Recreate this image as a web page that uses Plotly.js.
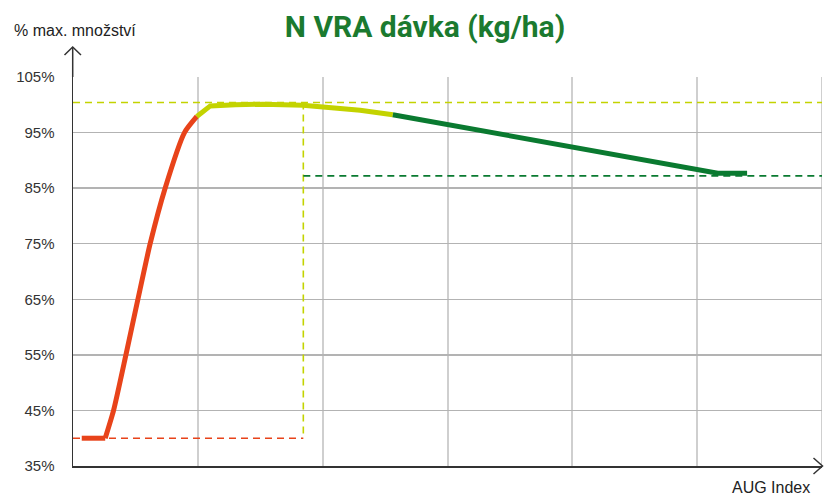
<!DOCTYPE html>
<html>
<head>
<meta charset="utf-8">
<script src="https://cdn.plot.ly/plotly-3.0.1.min.js"></script>
<style>html,body{margin:0;padding:0;background:#fff;}#chart{width:824px;height:495px;}</style>
</head>
<body>
<div id="chart"></div>
<script>
// ---- data (x = AUG index units, y = % of max amount) ----
const redFlatX = [0.07, 0.258];
const redFlatY = [40.0, 40.0];
const redX = [0.258, 0.325, 0.424, 0.520, 0.618, 0.738, 0.893, 0.992];
const redY = [40.0, 45.0, 55.0, 65.0, 75.0, 85.0, 95.0, 97.9];
const yellowX = [0.992, 1.10, 1.30, 1.522, 1.842, 2.002, 2.30, 2.562];
const yellowY = [97.9, 99.8, 100.0, 100.1, 99.9, 99.6, 99.0, 98.2];
const greenX = [2.562, 5.165, 5.40];
const greenY = [98.2, 87.7, 87.7];

const refMaxY = 100.4;    // yellow dashed horizontal
const refMinY = 40.0;     // red dashed horizontal
const refGreenY = 87.2;   // green dashed horizontal
const refSplitX = 1.845;  // yellow dashed vertical
const xMin = 0, xMax = 6;

const yTicks = [35, 45, 55, 65, 75, 85, 95, 105];
const yTickText = yTicks.map(v => v + '%');

const titleText = 'N VRA dávka (kg/ha)';
const yLabel = '% max. množství';
const xLabel = 'AUG Index';

// ---- colours ----
const cRed = '#E8431A', cYellow = '#C3D300', cGreen = '#0A7A30';

// ---- pixel helpers for decorations (axis arrows) ----
const L = 73, R = 2, T = 77, B = 29, W = 824 - L - R, H = 495 - T - B;
const px = x => (x - L) / W;
const py = y => (495 - B - y) / H;

const dash = '7px,5px';
const traces = [
  {x: [xMin, xMax], y: [refMaxY, refMaxY], mode: 'lines', line: {color: cYellow, width: 1.6, dash: dash}},
  {x: [refSplitX, refSplitX], y: [refMaxY, refMinY], mode: 'lines', line: {color: cYellow, width: 1.6, dash: dash}},
  {x: [xMin, refSplitX], y: [refMinY, refMinY], mode: 'lines', line: {color: cRed, width: 1.6, dash: dash}},
  {x: [refSplitX, xMax], y: [refGreenY, refGreenY], mode: 'lines', line: {color: cGreen, width: 1.6, dash: dash}},
  {x: redFlatX, y: redFlatY, mode: 'lines', line: {color: cRed, width: 5}},
  {x: redX, y: redY, mode: 'lines', line: {color: cRed, width: 5, shape: 'spline', smoothing: 0.6}},
  {x: yellowX, y: yellowY, mode: 'lines', line: {color: cYellow, width: 5}},
  {x: greenX, y: greenY, mode: 'lines', line: {color: cGreen, width: 5}}
].map(t => Object.assign(t, {showlegend: false, hoverinfo: 'skip', cliponaxis: false}));

const axisCol = '#333333';
const layout = {
  width: 824, height: 495,
  margin: {l: L, r: R, t: T, b: B, pad: 0},
  paper_bgcolor: '#ffffff', plot_bgcolor: '#ffffff',
  font: {family: 'Liberation Sans, Arial, sans-serif', color: '#333333', size: 15},
  title: {text: '<b>' + titleText + '</b>', x: 425 / 824, xref: 'container', xanchor: 'center',
          y: 1 - 26 / 495, yref: 'container', yanchor: 'middle',
          font: {family: 'Roboto, Liberation Sans, sans-serif', size: 30, color: '#1B7A2F'}},
  xaxis: {range: [xMin, xMax], dtick: 1, tick0: 0, showticklabels: false, ticks: '',
          showgrid: true, gridcolor: '#cfcfcf', gridwidth: 2, zeroline: false,
          showline: true, linecolor: axisCol, linewidth: 1.5, fixedrange: true},
  yaxis: {range: [35, 105], tickvals: yTicks, ticktext: yTickText, ticks: '',
          ticklabelstandoff: 14,
          showgrid: true, gridcolor: '#b3b3b3', gridwidth: 1.3, zeroline: false,
          showline: true, linecolor: axisCol, linewidth: 1.5, fixedrange: true,
          tickfont: {size: 15, color: '#333333'}},
  shapes: [
    // right edge gridline
    {type: 'line', xref: 'x', yref: 'paper', x0: xMax, x1: xMax, y0: 0, y1: 1, line: {color: '#cfcfcf', width: 2}, layer: 'below'},
    // y axis extension + arrow
    {type: 'line', xref: 'paper', yref: 'paper', x0: px(72.7), x1: px(72.7), y0: 1, y1: py(47), line: {color: axisCol, width: 1.5}},
    {type: 'path', xref: 'paper', yref: 'paper',
     path: `M ${px(64.5)} ${py(55)} L ${px(72.7)} ${py(47)} L ${px(81)} ${py(55)}`, line: {color: axisCol, width: 1.5}},
    // x axis arrow
    {type: 'path', xref: 'paper', yref: 'paper',
     path: `M ${px(813.5)} ${py(458)} L ${px(822.5)} ${py(466)} L ${px(813.5)} ${py(474)}`, line: {color: axisCol, width: 1.5}}
  ],
  annotations: [
    {text: yLabel, xref: 'paper', yref: 'paper', x: px(12), y: py(30), xanchor: 'left', yanchor: 'middle',
     showarrow: false, font: {size: 16, color: '#222222'}},
    {text: xLabel, xref: 'paper', yref: 'paper', x: px(812), y: py(487), xanchor: 'right', yanchor: 'middle',
     showarrow: false, font: {size: 16, color: '#222222'}}
  ]
};

Plotly.newPlot('chart', traces, layout, {displayModeBar: false, staticPlot: true});
</script>
</body>
</html>
